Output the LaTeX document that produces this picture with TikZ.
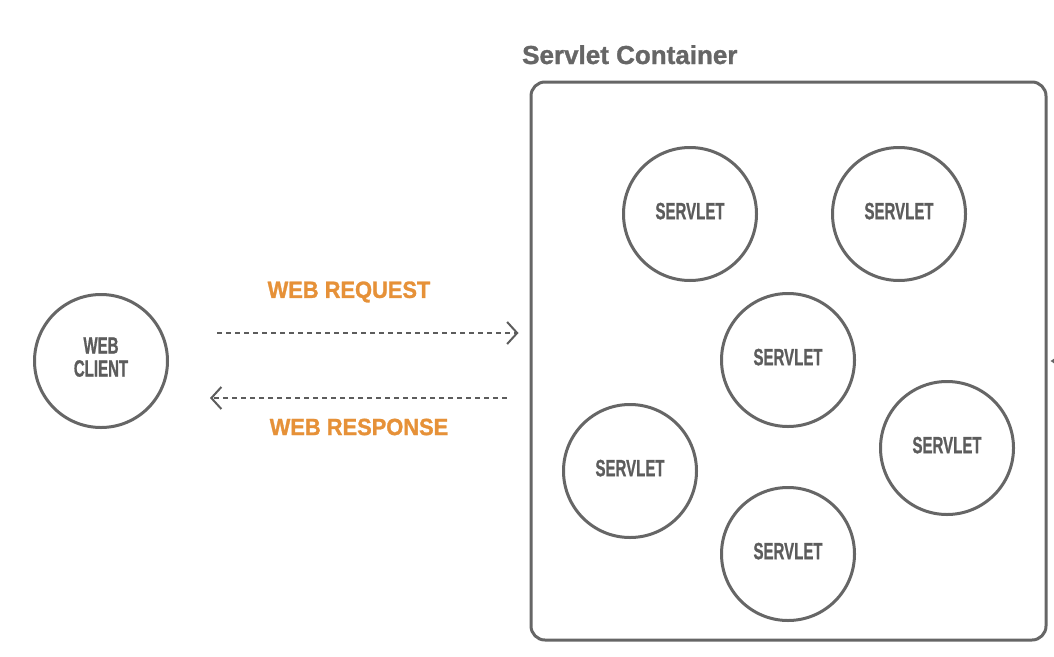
\documentclass[tikz,border=0pt]{standalone}
\usepackage{fontspec}
\setmainfont{Liberation Sans}
\newfontfamily\heavy{Liberation Sans}[BoldFeatures={FakeBold=1.2}]
\usetikzlibrary{arrows.meta,calc}
\definecolor{lg}{HTML}{666666}
\definecolor{tg}{HTML}{5C5C5C}
\definecolor{org}{HTML}{E69138}
\newcommand{\cond}[1]{\scalebox{0.64}[1]{#1}}
\newcommand{\wide}[1]{\scalebox{0.93}[1]{#1}}
\tikzset{
  circ/.style={circle,draw=lg,line width=3pt,minimum size=133pt,inner sep=0pt,
    font=\fontsize{23.5}{24}\heavy\bfseries,text=tg,align=center},
  lbl/.style={font=\fontsize{23.5}{24}\heavy\bfseries,text=org,inner sep=0pt},
  flow/.style={draw=tg,line width=2pt,dash pattern=on 5pt off 4pt,
    -{Straight Barb[length=10pt,width=22pt,line width=2pt]}},
  container/.style={draw=lg,line width=3pt,rounded corners=14pt,
    minimum width=515pt,minimum height=558pt,inner sep=0pt},
  title/.style={font=\fontsize{26}{27}\heavy\bfseries,text=lg,inner sep=0pt}
}
\begin{document}
\begin{tikzpicture}[x=1pt,y=-1pt]
\useasboundingbox (0,0) rectangle (1054,656);
\fill[white] (0,0) rectangle (1054,656);

\node[container] (box) at (788.5,361) {};
\node[title,anchor=base west] (ttl) at (522,64) {Servlet Container};

\node[circ] (client) at (101,361) {\raisebox{4pt}[\height][0pt]{\cond{WEB}}\\[-1pt]\raisebox{4pt}[\height][0pt]{\cond{CLIENT}}};

\node[circ] (s1) at (690,214) {\raisebox{3pt}[\height][0pt]{\cond{SERVLET}}};
\node[circ] (s2) at (899,214) {\raisebox{3pt}[\height][0pt]{\cond{SERVLET}}};
\node[circ] (s3) at (788,360) {\raisebox{3pt}[\height][0pt]{\cond{SERVLET}}};
\node[circ] (s4) at (630,471) {\raisebox{3pt}[\height][0pt]{\cond{SERVLET}}};
\node[circ] (s5) at (947,448) {\raisebox{3pt}[\height][0pt]{\cond{SERVLET}}};
\node[circ] (s6) at (788,554) {\raisebox{3pt}[\height][0pt]{\cond{SERVLET}}};

\coordinate (rqA) at ($(client.east)+(48,-28)$);
\coordinate (rqB) at ($(box.west)+(-11,-28)$);
\coordinate (rsA) at ($(box.west)+(-23,37)$);
\coordinate (rsB) at ($(client.east)+(41,37)$);
\draw[flow] (rqA) -- (rqB);
\draw[flow] (rsA) -- (rsB);

\node[lbl] (lreq) at (349,292) {\wide{WEB REQUEST}};
\node[lbl] (lres) at (359,427) {\wide{WEB RESPONSE}};

\begin{scope}
\clip (0,0) rectangle (1054,656);
\coordinate (ext) at (1080,361);
\draw[draw=lg,line width=2pt,-{Triangle[length=7pt,width=9pt]}] (ext) -- ($(box.east)+(3,0)$);
\end{scope}
\end{tikzpicture}
\end{document}
